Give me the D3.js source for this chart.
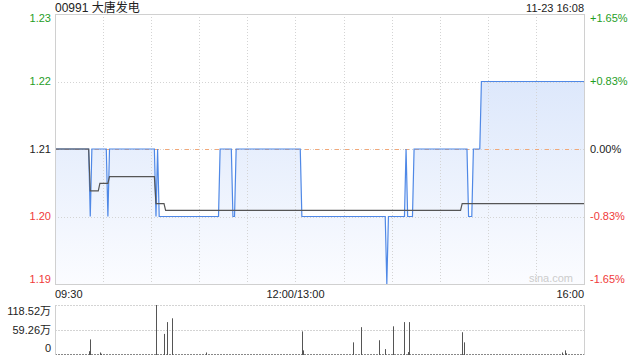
<!DOCTYPE html>
<html>
<head>
<meta charset="utf-8">
<script src="https://cdn.jsdelivr.net/npm/d3@7"></script>
<style>
  body { margin: 0; background: #fff; }
  svg text { font-family: "Liberation Sans", Arial, "Noto Sans CJK SC", sans-serif; }
</style>
</head>
<body>
<svg width="640" height="360"></svg>
<script>
// chart data (minute since 09:30, value)
var title = "00991 大唐发电";
var stamp = "11-23 16:08";
var prevClose = 1.21;

var priceTicks = [1.23, 1.22, 1.21, 1.20, 1.19];
var pctTicks = ["+1.65%", "+0.83%", "0.00%", "-0.83%", "-1.65%"];
var timeLabels = ["09:30", "12:00/13:00", "16:00"];
var volTicks = [118.52, 59.26, 0];
var volLabels = ["118.52万", "59.26万", "0"];

var priceLine = [
  [0, 1.21], [21, 1.21], [22, 1.20], [23, 1.21], [32, 1.21], [33, 1.20], [34, 1.21],
  [62, 1.21], [63, 1.20], [64, 1.21], [65, 1.20], [102, 1.20], [103, 1.21],
  [110, 1.21], [111, 1.20], [112, 1.20], [113, 1.21], [153, 1.21], [154, 1.20],
  [206, 1.20], [207, 1.19], [208, 1.20], [218, 1.20], [219, 1.21], [220, 1.20],
  [223, 1.20], [224, 1.21], [257, 1.21], [258, 1.20], [260, 1.20], [261, 1.21],
  [265, 1.21], [266, 1.22], [330, 1.22]
];

var avgLine = [
  [0, 1.21], [21, 1.21], [22, 1.2038], [27, 1.2038], [28, 1.2049], [33, 1.2049],
  [34, 1.2059], [62, 1.2059], [63, 1.2019], [68, 1.2019], [69, 1.2009],
  [253, 1.2009], [254, 1.2019], [330, 1.2019]
];

// volume in 万
var volumeBars = [
  [21, 9], [22, 37], [28, 6], [29, 3], [63, 118.52], [68, 50], [70, 78], [73, 87],
  [94, 6], [154, 56], [155, 11], [186, 30], [191, 66], [202, 35], [206, 14],
  [211, 68], [218, 78], [220, 7], [221, 78], [254, 54], [255, 30],
  [316, 6], [318, 11], [319, 4]
];

var svg = d3.select("svg");

var pLeft = 55, pRight = 584, pTop = 14, pBottom = 284;
var vTop = 305, vBottom = 355;

var green = "#1f9e1f", red = "#f03a3a", grid = "#d4d4d4";

var x = d3.scaleLinear().domain([0, 330]).range([pLeft, pRight]);
var y = d3.scaleLinear().domain([1.19, 1.23]).range([pBottom, pTop]);
var yv = d3.scaleLinear().domain([0, 118.52]).range([vBottom, vTop]);

// gradient for the area
var grad = svg.append("defs").append("linearGradient")
    .attr("id", "fillGrad")
    .attr("gradientUnits", "userSpaceOnUse")
    .attr("x1", 0).attr("x2", 0).attr("y1", pTop).attr("y2", pBottom);
grad.append("stop").attr("offset", "0%").attr("stop-color", "#d3e1fa");
grad.append("stop").attr("offset", "100%").attr("stop-color", "#fbfcff");

// area under price
svg.append("path")
  .datum(priceLine)
  .attr("fill", "url(#fillGrad)")
  .attr("d", d3.area()
      .x(function(d){ return x(d[0]) })
      .y0(pBottom)
      .y1(function(d){ return y(d[1]) }));

// vertical grid every 30 min
svg.append("g")
  .selectAll("line")
  .data(d3.range(30, 330, 30))
  .enter()
  .append("line")
    .attr("x1", function(d){ return Math.round(x(d)) + 0.5 })
    .attr("x2", function(d){ return Math.round(x(d)) + 0.5 })
    .attr("y1", pTop).attr("y2", pBottom)
    .attr("stroke", grid)
    .attr("stroke-dasharray", "1,2");

// horizontal grid
svg.append("g")
  .selectAll("line")
  .data([1.22, 1.21, 1.20])
  .enter()
  .append("line")
    .attr("x1", pLeft).attr("x2", pRight)
    .attr("y1", function(d){ return Math.round(y(d)) + 0.5 })
    .attr("y2", function(d){ return Math.round(y(d)) + 0.5 })
    .attr("stroke", grid)
    .attr("stroke-dasharray", "1,2");

// previous close
svg.append("line")
  .attr("x1", pLeft).attr("x2", pRight)
  .attr("y1", Math.round(y(prevClose)) + 0.5).attr("y2", Math.round(y(prevClose)) + 0.5)
  .attr("stroke", "#f2a878")
  .attr("stroke-dasharray", "4,6");

// price line
svg.append("path")
  .datum(priceLine)
  .attr("fill", "none")
  .attr("stroke", "#4f88e6")
  .attr("stroke-width", 1.2)
  .attr("d", d3.line()
      .x(function(d){ return x(d[0]) })
      .y(function(d){ return y(d[1]) }));

// average line
svg.append("path")
  .datum(avgLine)
  .attr("fill", "none")
  .attr("stroke", "#555")
  .attr("stroke-width", 1.2)
  .attr("d", d3.line()
      .x(function(d){ return x(d[0]) })
      .y(function(d){ return y(d[1]) }));

// border
svg.append("rect")
  .attr("x", pLeft + 0.5).attr("y", pTop + 0.5)
  .attr("width", pRight - pLeft).attr("height", pBottom - pTop)
  .attr("fill", "none")
  .attr("stroke", "#d0d0d0");

// watermark
svg.append("text")
  .attr("x", 573).attr("y", 282)
  .attr("text-anchor", "end")
  .attr("font-size", 11)
  .attr("fill", "#cccccc")
  .text("sina.com");

// left price labels
var colorFor = function(i){ return i < 2 ? green : (i == 2 ? "#222" : red) };
var labelY = function(d, i){ return y(d) + (i == 0 ? 4 : (i == 4 ? -5 : 0)) };

svg.append("g")
  .selectAll("text")
  .data(priceTicks)
  .enter()
  .append("text")
    .attr("x", 51)
    .attr("y", labelY)
    .attr("dy", "0.35em")
    .attr("text-anchor", "end")
    .attr("font-size", 11)
    .attr("fill", function(d, i){ return colorFor(i) })
    .text(function(d){ return d.toFixed(2) });

// right percent labels
svg.append("g")
  .selectAll("text")
  .data(pctTicks)
  .enter()
  .append("text")
    .attr("x", 590)
    .attr("y", function(d, i){ return labelY(priceTicks[i], i) })
    .attr("dy", "0.35em")
    .attr("font-size", 11)
    .attr("fill", function(d, i){ return colorFor(i) })
    .text(function(d){ return d });

// title and time stamp
svg.append("text")
  .attr("x", 55).attr("y", 12)
  .attr("font-size", 12)
  .attr("fill", "#222")
  .text(title);

svg.append("text")
  .attr("x", 584).attr("y", 12)
  .attr("text-anchor", "end")
  .attr("font-size", 11)
  .attr("fill", "#222")
  .text(stamp);

// time labels
svg.append("g")
  .selectAll("text")
  .data(timeLabels)
  .enter()
  .append("text")
    .attr("x", function(d, i){ return [x(0), x(150), x(330)][i] })
    .attr("y", 298)
    .attr("text-anchor", function(d, i){ return ["start", "middle", "end"][i] })
    .attr("font-size", 11)
    .attr("fill", "#222")
    .text(function(d){ return d });

// volume panel
svg.append("g")
  .selectAll("line")
  .data([118.52, 59.26])
  .enter()
  .append("line")
    .attr("x1", pLeft).attr("x2", pRight)
    .attr("y1", function(d){ return Math.round(yv(d)) + 0.5 })
    .attr("y2", function(d){ return Math.round(yv(d)) + 0.5 })
    .attr("stroke", grid)
    .attr("stroke-dasharray", "2,1");

svg.append("line")
  .attr("x1", pLeft).attr("x2", pRight)
  .attr("y1", vBottom - 0.5).attr("y2", vBottom - 0.5)
  .attr("stroke", "#888")
  .attr("stroke-dasharray", "2,1");

svg.append("line")
  .attr("x1", pLeft + 0.5).attr("x2", pLeft + 0.5)
  .attr("y1", vTop).attr("y2", vBottom)
  .attr("stroke", "#d0d0d0");
svg.append("line")
  .attr("x1", pRight + 0.5).attr("x2", pRight + 0.5)
  .attr("y1", vTop).attr("y2", vBottom)
  .attr("stroke", "#d0d0d0");

svg.append("g")
  .selectAll("line")
  .data(volumeBars)
  .enter()
  .append("line")
    .attr("x1", function(d){ return Math.round(x(d[0])) + 0.5 })
    .attr("x2", function(d){ return Math.round(x(d[0])) + 0.5 })
    .attr("y1", yv(0))
    .attr("y2", function(d){ return yv(d[1]) })
    .attr("stroke", "#555")
    .attr("stroke-width", 1);

svg.append("g")
  .selectAll("text")
  .data(volTicks)
  .enter()
  .append("text")
    .attr("x", 51)
    .attr("y", function(d, i){ return yv(d) + [6, 0, -7][i] })
    .attr("dy", "0.35em")
    .attr("text-anchor", "end")
    .attr("font-size", 11)
    .attr("fill", "#222")
    .text(function(d, i){ return volLabels[i] });
</script>
</body>
</html>
